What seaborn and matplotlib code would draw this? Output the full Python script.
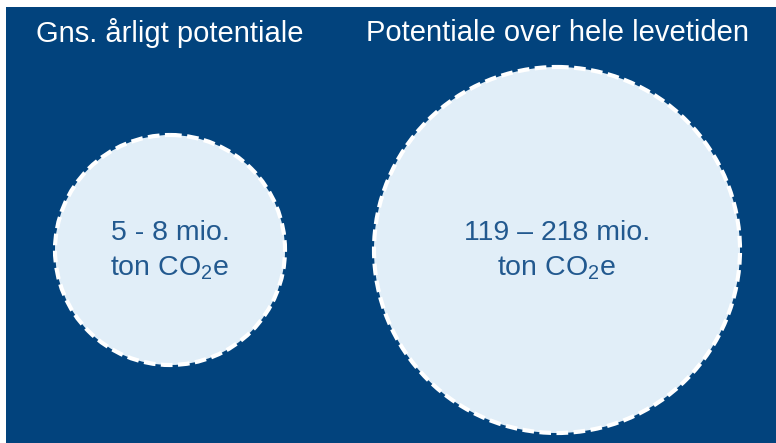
import matplotlib
matplotlib.use("Agg")
import matplotlib.pyplot as plt
from matplotlib.patches import Circle
import seaborn as sns

sns.set_theme(style="white")
plt.rcParams['font.family'] = ['Liberation Sans', 'DejaVu Sans']
plt.rcParams['mathtext.fontset'] = 'custom'
plt.rcParams['mathtext.rm'] = 'Liberation Sans'

# Data
titles = ["Gns. årligt potentiale", "Potentiale over hele levetiden"]
value_labels = ["5 - 8 mio.", "119 \u2013 218 mio."]
unit_label = "ton CO$_\\mathregular{2}$e"
radii = [115, 183]          # circle radii (pixel units)
centers_x = [170, 557]
center_y = 250

BG = "#02437D"
FILL = "#E1EEF8"
TXT = "#22598F"

fig = plt.figure(figsize=(7.76, 4.43), dpi=100, facecolor="white")
ax = fig.add_axes([0, 0, 1, 1])
ax.set_xlim(0, 776)
ax.set_ylim(443, 0)
ax.set_aspect("equal")
ax.axis("off")

bg = plt.Rectangle((6, 7), 770, 436, facecolor=BG, edgecolor="none", zorder=0)
ax.add_patch(bg)

for t, lab, r, cx in zip(titles, value_labels, radii, centers_x):
    c = Circle((cx, center_y), r, facecolor=FILL, edgecolor="white",
               linewidth=3.0, linestyle=(0, (2.8, 1.3)), zorder=2)
    ax.add_patch(c)
    ax.text(cx, 33, t, color="white", fontsize=21, ha="center", va="center", zorder=3)
    ax.text(cx, 233, lab, color=TXT, fontsize=20.5, ha="center", va="center", zorder=3)
    ax.text(cx, 268, unit_label, color=TXT, fontsize=20.5, ha="center", va="center", zorder=3)

fig.savefig("out.png", dpi=100, facecolor="white")
